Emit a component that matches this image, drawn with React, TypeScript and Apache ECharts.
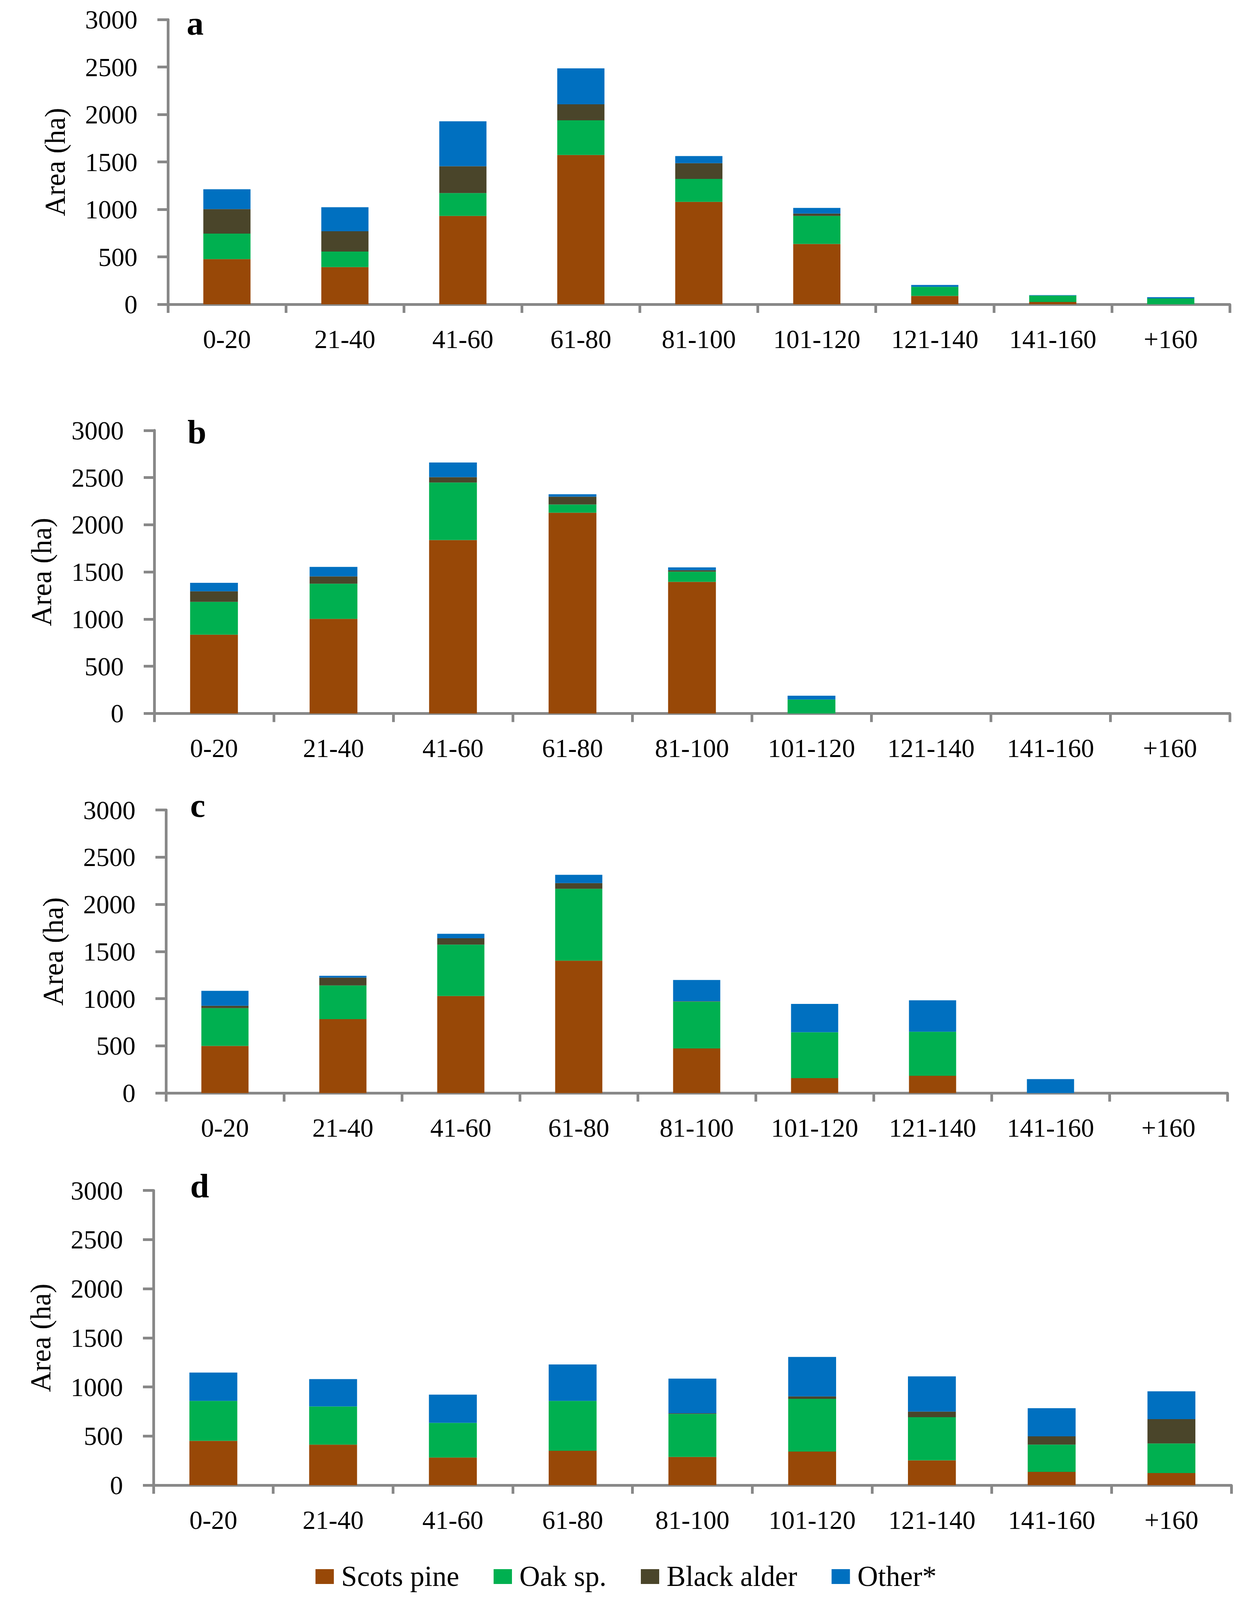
import React, { useEffect, useRef } from "react";
import * as echarts from "echarts";

const categories = ["0-20", "21-40", "41-60", "61-80", "81-100", "101-120", "121-140", "141-160", "+160"];
const seriesNames = ["Scots pine", "Oak sp.", "Black alder", "Other*"];
const seriesColors = ["#984807", "#00B050", "#4A452A", "#0070C0"];
const panelLetters = ["a", "b", "c", "d"];
const yTicks = [0, 3000, 500];

// Panel a
const scotsA = [477, 392, 931, 1574, 1080, 636, 89, 25, 0];
const oakA = [268, 164, 241, 365, 241, 295, 95, 67, 62];
const alderA = [258, 214, 283, 169, 166, 25, 0, 0, 0];
const otherA = [209, 253, 474, 378, 75, 60, 20, 5, 13];

// Panel b
const scotsB = [835, 1003, 1838, 2128, 1395, 0, 0, 0, 0];
const oakB = [348, 372, 610, 87, 108, 148, 0, 0, 0];
const alderB = [112, 78, 57, 83, 15, 0, 0, 0, 0];
const otherB = [90, 100, 155, 25, 30, 40, 0, 0, 0];

// Panel c
const scotsC = [500, 783, 1028, 1403, 473, 158, 183, 0, 0];
const oakC = [400, 357, 545, 762, 495, 487, 467, 0, 0];
const alderC = [25, 83, 67, 60, 5, 0, 0, 0, 0];
const otherC = [158, 20, 48, 88, 225, 300, 333, 148, 0];

// Panel d
const scotsD = [451, 413, 281, 350, 287, 342, 253, 135, 123];
const oakD = [407, 388, 353, 508, 439, 537, 439, 278, 302];
const alderD = [0, 0, 0, 0, 6, 25, 57, 84, 247];
const otherD = [288, 279, 288, 371, 353, 402, 359, 287, 284];

const panels = [
  [scotsA, oakA, alderA, otherA],
  [scotsB, oakB, alderB, otherB],
  [scotsC, oakC, alderC, otherC],
  [scotsD, oakD, alderD, otherD],
];

const FONT = "'Liberation Serif', 'Times New Roman', serif";
const AXIS = "#888888";
const OFF = 8; // body margin

export default function App() {
  const ref = useRef<HTMLDivElement>(null);
  useEffect(() => {
    if (!ref.current) return;
    const el = ref.current;
    const vh = Math.min(window.innerHeight || 4974, 4974);
    el.style.height = vh - 2 * OFF + "px";
    const k = vh / 4974; // vertical fit factor to the visible viewport
    const sy = (y: number) => y * k - OFF;
    const fs = (f: number) => Math.round(f * (0.5 + 0.5 * k));

    const grids = [
      { left: 430, top: 61, right: 3149, bottom: 946 },
      { left: 395, top: 1338, right: 3149, bottom: 2218 },
      { left: 425, top: 2518, right: 3143, bottom: 3398 },
      { left: 393, top: 3701, right: 3153, bottom: 4617 },
    ];
    const letterPos = [
      { x: 478, y: 72 },
      { x: 480, y: 1343 },
      { x: 487, y: 2504 },
      { x: 487, y: 3686 },
    ];

    const chart = echarts.init(el, undefined, { renderer: "svg" });
    const xAxis = grids.map((_, i) => ({
      type: "category",
      gridIndex: i,
      data: categories,
      boundaryGap: true,
      axisLine: { show: true, lineStyle: { color: AXIS, width: 7 } },
      axisTick: { show: true, interval: 0, length: Math.round(27 * k), lineStyle: { color: AXIS, width: 7 } },
      axisLabel: {
        interval: 0,
        fontSize: fs(74),
        color: "#000",
        margin: Math.round(108 * k - fs(74) / 2),
        fontFamily: FONT,
      },
      splitLine: { show: false },
    }));
    const yAxis = grids.map((_, i) => ({
      type: "value",
      gridIndex: i,
      min: yTicks[0],
      max: yTicks[1],
      interval: yTicks[2],
      name: "Area (ha)",
      nameLocation: "middle",
      nameGap: 252,
      nameTextStyle: { fontSize: fs(80), color: "#000", fontFamily: FONT },
      axisLine: { show: true, lineStyle: { color: AXIS, width: 7 } },
      axisTick: { show: true, length: 27, lineStyle: { color: AXIS, width: 7 } },
      axisLabel: {
        fontSize: fs(74),
        color: "#000",
        margin: 78,
        fontFamily: FONT,
        formatter: (v: number) => String(v),
      },
      splitLine: { show: false },
    }));
    const series: any[] = [];
    panels.forEach((panel, i) => {
      panel.forEach((vals, j) => {
        series.push({
          type: "bar",
          name: seriesNames[j],
          xAxisIndex: i,
          yAxisIndex: i,
          stack: "p" + i,
          barWidth: "40%",
          data: vals,
          itemStyle: { color: seriesColors[j] },
        });
      });
    });
    const legendFont = fs(80);
    chart.setOption({
      animation: false,
      backgroundColor: "#fff",
      grid: grids.map((g) => ({
        left: g.left - OFF,
        top: sy(g.top),
        width: g.right - g.left,
        height: (g.bottom - g.top) * k,
        containLabel: false,
      })),
      xAxis,
      yAxis,
      series,
      legend: {
        data: seriesNames,
        left: "center",
        top: sy(4901) - legendFont / 2,
        padding: 0,
        icon: "rect",
        itemWidth: 47,
        itemHeight: Math.round(46 * k),
        itemGap: 88,
        selectedMode: false,
        textStyle: { fontSize: legendFont, color: "#000", fontFamily: FONT, padding: [0, 0, 0, 14] },
      },
      graphic: panelLetters.map((t, i) => ({
        type: "text",
        x: letterPos[i].x - OFF,
        y: sy(letterPos[i].y),
        style: {
          text: t,
          fill: "#000",
          font: `bold ${fs(95)}px ${FONT}`,
          verticalAlign: "middle",
          align: "left",
        },
      })),
    });
    return () => chart.dispose();
  }, []);
  return <div ref={ref} style={{ width: 3190, height: 4958 }} />;
}
